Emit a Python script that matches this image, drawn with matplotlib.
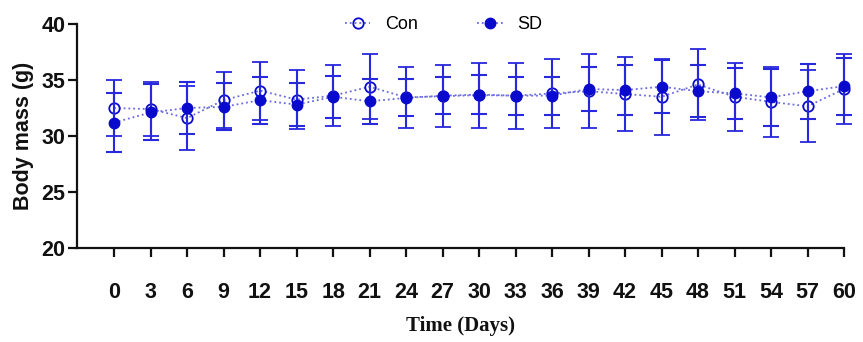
import matplotlib
matplotlib.use("Agg")
import matplotlib.pyplot as plt
from matplotlib.lines import Line2D

days = [0, 3, 6, 9, 12, 15, 18, 21, 24, 27, 30, 33, 36, 39, 42, 45, 48, 51, 54, 57, 60]
con_mean = [32.5, 32.4, 31.6, 33.2, 34.05, 33.25, 33.6, 34.4, 33.45, 33.55, 33.65, 33.6, 33.8, 34.0, 33.75, 33.5, 34.6, 33.5, 33.05, 32.65, 34.2]
con_err = [2.5, 2.4, 2.85, 2.5, 2.6, 2.6, 2.7, 2.9, 2.75, 2.75, 2.9, 2.95, 3.05, 3.3, 3.3, 3.4, 3.2, 3.05, 3.1, 3.2, 3.15]
sd_mean = [31.2, 32.1, 32.5, 32.6, 33.2, 32.8, 33.5, 33.1, 33.4, 33.6, 33.7, 33.6, 33.6, 34.2, 34.1, 34.4, 34.0, 33.8, 33.45, 34.0, 34.45]
sd_err = [2.6, 2.5, 2.3, 2.1, 2.1, 1.9, 1.9, 2.0, 1.65, 1.65, 1.75, 1.7, 1.7, 1.95, 2.2, 2.35, 2.3, 2.3, 2.55, 2.45, 2.55]

plt.rcParams['font.family'] = ['Liberation Sans', 'DejaVu Sans']

fig = plt.figure(figsize=(8.63, 3.42), dpi=100)
ax = fig.add_axes([77/863, 1-248/342, (844-77)/863, (248-24)/342])

mcol = '#0a0acc'
ecol = '#2828dd'
lcol = '#6a6ae0'

# connecting dotted lines
ax.plot(days, con_mean, ls=':', color=lcol, lw=1.3, zorder=2, clip_on=False)
ax.plot(days, sd_mean, ls=':', color=lcol, lw=1.3, zorder=2, clip_on=False)

ax.errorbar(days, con_mean, yerr=con_err, fmt='o', mfc='none', mec=mcol, mew=1.3,
            ms=7.5, ecolor=ecol, elinewidth=1.5, capsize=5.5, capthick=1.5,
            zorder=3, clip_on=False)
ax.errorbar(days, sd_mean, yerr=sd_err, fmt='o', mfc=mcol, mec=mcol, ms=7.5,
            ecolor=ecol, elinewidth=1.5, capsize=5.5, capthick=1.5,
            zorder=4, clip_on=False)

ax.set_xlim(-3.05, 60)
ax.set_ylim(20, 40)
ax.set_xticks(days)
ax.set_xticklabels([str(d) for d in days])
ax.set_yticks([20, 25, 30, 35, 40])

for s in ['top', 'right']:
    ax.spines[s].set_visible(False)
for s in ['left', 'bottom']:
    ax.spines[s].set_linewidth(1.6)
    ax.spines[s].set_color('#111111')

ax.tick_params(axis='both', direction='out', length=6.5, width=1.6, color='#111111')
ax.tick_params(axis='x', pad=18)
ax.tick_params(axis='y', pad=2)
for lab in ax.get_xticklabels() + ax.get_yticklabels():
    lab.set_fontsize(15.5)
    lab.set_fontweight('bold')
    lab.set_color('#111111')

ax.set_ylabel('Body mass (g)', fontsize=15.5, fontweight='bold', color='#111111', labelpad=5)
ax.set_xlabel('Time (Days)', fontsize=15, fontweight='bold', family='Liberation Serif',
              color='#111111', labelpad=9)

handles = [
    Line2D([], [], ls=':', color=lcol, lw=1.3, marker='o', mfc='none', mec=mcol, mew=1.3, ms=7.5),
    Line2D([], [], ls=':', color=lcol, lw=1.3, marker='o', mfc=mcol, mec=mcol, ms=7.5),
]
fig.legend(handles, ['Con', 'SD'], loc='center', bbox_to_anchor=(0.514, 0.927), ncol=2,
           frameon=False, fontsize=13, handlelength=1.4, handletextpad=0.8,
           columnspacing=3.3)

fig.savefig('out.png', dpi=100)
